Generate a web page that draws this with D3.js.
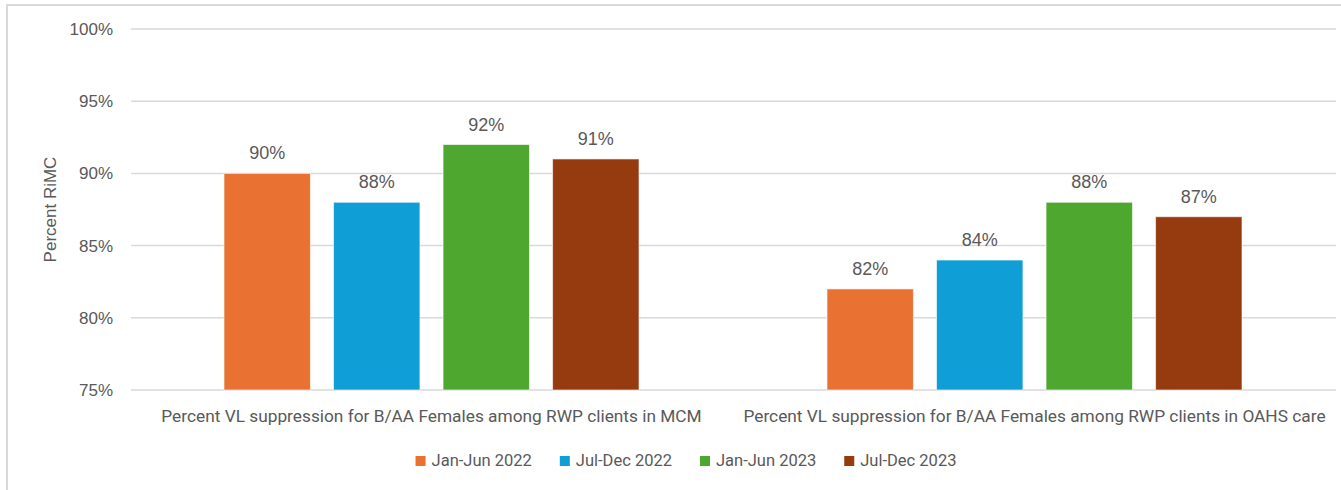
<!DOCTYPE html>
<html><head><meta charset="utf-8">
<script src="https://cdn.jsdelivr.net/npm/d3@7"></script>
<style>
html,body{margin:0;padding:0;background:#fff;}
svg{display:block;}
</style></head><body>
<svg id="c" width="1341" height="490"></svg>
<script>
const categories = [
  "Percent VL suppression for B/AA Females among RWP clients in MCM",
  "Percent VL suppression for B/AA Females among RWP clients in OAHS care"
];
const seriesNames = ["Jan-Jun 2022", "Jul-Dec 2022", "Jan-Jun 2023", "Jul-Dec 2023"];
const seriesColors = ["#E97132", "#0F9ED5", "#4EA72E", "#963A0F"];
const janJun2022 = [90, 82];
const julDec2022 = [88, 84];
const janJun2023 = [92, 88];
const julDec2023 = [91, 87];
const yTicks = [75, 80, 85, 90, 95, 100];
const yTitle = "Percent RiMC";
</script>
<script>
const seriesValues = [janJun2022, julDec2022, janJun2023, julDec2023];

const svg = d3.select("#c");
const txt = "#595959";
const grid = "#d9d9d9";
const font1 = "'Liberation Sans', Arial, sans-serif";
const font2 = "Roboto, 'Liberation Sans', sans-serif";

// chart border
svg.append("rect").attr("x", 7).attr("y", 5).attr("width", 1360).attr("height", 500)
  .attr("fill", "none").attr("stroke", grid).attr("stroke-width", 2);

const x0 = d3.scaleBand().domain(categories).range([130, 1336]).padding(0);
const groupPad = 94;
const x1 = d3.scaleBand().domain(seriesNames)
  .range([groupPad, x0.bandwidth() - groupPad]).paddingInner(0.211).paddingOuter(0);
const y = d3.scaleLinear().domain([75, 100]).range([390, 29]);

// y axis labels
const yAxis = d3.axisLeft(y).tickValues(yTicks).tickSize(0).tickPadding(18)
  .tickFormat(d => d + "%");
const ga = svg.append("g").attr("transform", "translate(131,0)").call(yAxis);
ga.select(".domain").remove();
ga.selectAll("text").attr("fill", txt).style("font-family", font1).style("font-size", "17px");
// gridlines
svg.append("g").selectAll("line").data(yTicks).join("line")
  .attr("x1", 131).attr("x2", 1336).attr("y1", d => y(d)).attr("y2", d => y(d))
  .attr("stroke", grid).attr("stroke-width", 1.5);

// bars
const groups = svg.append("g").selectAll("g").data(categories).join("g")
  .attr("transform", d => `translate(${x0(d)},0)`);
groups.each(function(cat, ci) {
  const g = d3.select(this);
  seriesNames.forEach((s, si) => {
    const v = seriesValues[si][ci];
    g.append("rect").attr("x", x1(s)).attr("width", x1.bandwidth())
      .attr("y", y(v)).attr("height", y(75) - y(v))
      .attr("fill", seriesColors[si]).attr("stroke", "rgba(255,255,255,0.6)").attr("stroke-width", 1);
    g.append("text").attr("x", x1(s) + x1.bandwidth() / 2).attr("y", y(v) - 14)
      .attr("text-anchor", "middle").attr("fill", txt)
      .style("font-family", font1).style("font-size", "18px").text(v + "%");
  });
});

// category labels
svg.append("g").selectAll("text").data(categories).join("text")
  .attr("x", d => x0(d) + x0.bandwidth() / 2).attr("y", 422)
  .attr("text-anchor", "middle").attr("fill", txt)
  .style("font-family", font2).style("font-size", "17.3px").text(d => d);

// y title
svg.append("text").attr("transform", `translate(56,${(y(75) + y(100)) / 2}) rotate(-90)`)
  .attr("text-anchor", "middle").attr("fill", txt)
  .style("font-family", font1).style("font-size", "17px").text(yTitle);

// legend
const lg = svg.append("g");
const items = lg.selectAll("g").data(seriesNames).join("g");
items.append("rect").attr("width", 10).attr("height", 10).attr("y", 456)
  .attr("fill", (d, i) => seriesColors[i]);
items.append("text").attr("x", 16).attr("y", 466).attr("fill", txt)
  .style("font-family", font2).style("font-size", "16.5px").text(d => d);
let widths = [];
items.each(function() { widths.push(16 + d3.select(this).select("text").node().getComputedTextLength()); });
const gap = 28;
const total = d3.sum(widths) + gap * (widths.length - 1);
let cx = 686 - total / 2;
items.attr("transform", (d, i) => {
  const t = `translate(${cx},0)`; cx += widths[i] + gap; return t;
});
</script>
</body></html>
